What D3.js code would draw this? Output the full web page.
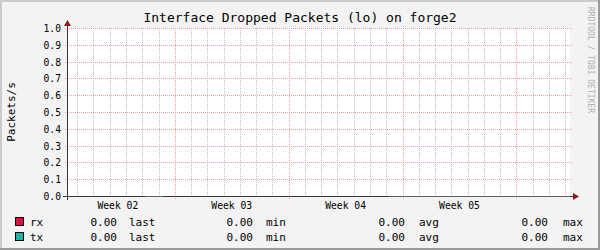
<!DOCTYPE html>
<html>
<head>
<meta charset="utf-8">
<script src="https://cdn.jsdelivr.net/npm/d3@7"></script>
<style>
  body { margin: 0; background: #fff; }
  text { font-family: "DejaVu Sans Mono", monospace; }
  line.grid { shape-rendering: crispEdges; }
</style>
</head>
<body>
<svg width="600" height="250"></svg>
<script>
// data
const title = "Interface Dropped Packets (lo) on forge2";
const yLabel = "Packets/s";
const watermark = "RRDTOOL / TOBI OETIKER";
const timeRange = ["2015-01-05T09:00Z", "2015-02-05T07:00Z"];
const weekStarts = ["2015-01-05T00:00Z", "2015-01-12T00:00Z", "2015-01-19T00:00Z", "2015-01-26T00:00Z", "2015-02-02T00:00Z"];
const weekLabels = ["Week 02", "Week 03", "Week 04", "Week 05"];
const yTicks = [0, 0.1, 0.2, 0.3, 0.4, 0.5, 0.6, 0.7, 0.8, 0.9, 1.0];
const sampleTimes = ["2015-01-10T04:00Z", "2015-01-11T06:30Z", "2015-01-18T00:00Z",
                     "2015-01-25T04:00Z", "2015-01-30T00:00Z", "2015-02-05T07:00Z"];
const rxValues = [0, 0, null, 0, 0, 0];
const txValues = [0, 0, null, 0, 0, 0];
const seriesNames = ["rx", "tx"];
const seriesColors = ["#dc143c", "#20b2aa"];
const statLabels = ["last", "min", "avg", "max"];
const rxStats = [0, 0, 0, 0];
const txStats = [0, 0, 0, 0];

let width = 600;
let height = 250;
let plotLeft = 67, plotRight = 570, plotTop = 28, plotBottom = 196;

let parse = d3.isoParse;
let svg = d3.select("svg");

// background with rrdtool style shading
svg.append("rect").attr("width", width).attr("height", height).attr("fill", "#999999");
svg.append("rect").attr("width", width - 2).attr("height", height - 2).attr("fill", "#cbcbcb");
svg.append("rect").attr("x", 2).attr("y", 2).attr("width", width - 4).attr("height", height - 4).attr("fill", "#f3f3f3");

let xScale = d3.scaleUtc()
               .domain(timeRange.map(parse))
               .range([plotLeft, plotRight]);

let yScale = d3.scaleLinear()
               .domain([0, 1])
               .range([plotBottom, plotTop]);

svg.append("rect")
   .attr("x", plotLeft).attr("y", plotTop)
   .attr("width", plotRight - plotLeft).attr("height", plotBottom - plotTop)
   .attr("fill", "#ffffff");

let weekDates = weekStarts.map(parse);
let weekMs = weekDates.map(d => d.getTime());

// minor grid: every day that is not a week start
let days = d3.utcDay.range(xScale.domain()[0], xScale.domain()[1])
             .filter(d => weekMs.indexOf(d.getTime()) < 0);
svg.append("g")
   .selectAll("line")
   .data(days)
   .enter()
   .append("line")
     .attr("class", "grid")
     .attr("x1", d => Math.round(xScale(d)) + 0.5)
     .attr("x2", d => Math.round(xScale(d)) + 0.5)
     .attr("y1", plotTop)
     .attr("y2", plotBottom + 2)
     .attr("stroke", "#bdbdbd")
     .attr("stroke-dasharray", "1,1");

// horizontal grid
svg.append("g")
   .selectAll("line")
   .data(yTicks.slice(1))
   .enter()
   .append("line")
     .attr("class", "grid")
     .attr("x1", plotLeft - 2)
     .attr("x2", plotRight + 2)
     .attr("y1", d => Math.round(yScale(d)) + 0.5)
     .attr("y2", d => Math.round(yScale(d)) + 0.5)
     .attr("stroke", "#f09c9c")
     .attr("stroke-dasharray", "1,1");

// major grid: one path per week start
let majorWeeks = weekDates.filter(d => d > xScale.domain()[0]);
svg.append("g")
   .selectAll("path")
   .data(majorWeeks)
   .enter()
   .append("path")
     .attr("d", d => {
       let x = Math.round(xScale(d)) + 0.5;
       return "M" + x + "," + plotTop + "V" + (plotBottom + 3);
     })
     .attr("fill", "none")
     .attr("stroke", "#f09c9c")
     .attr("stroke-width", 1)
     .attr("stroke-dasharray", "1,1")
     .style("shape-rendering", "crispEdges");

// y tick labels
svg.append("g")
   .selectAll("text")
   .data(yTicks)
   .enter()
   .append("text")
     .attr("x", 61)
     .attr("y", d => Math.round(yScale(d)) + 3.5)
     .attr("text-anchor", "end")
     .style("font-size", "9.7px")
     .attr("fill", "#000")
     .text(d3.format(".1f"));

// week labels at mid week
svg.append("g")
   .selectAll("text")
   .data(weekLabels)
   .enter()
   .append("text")
     .attr("x", (d, i) => xScale(d3.utcHour.offset(weekDates[i], 84)))
     .attr("y", 209)
     .attr("text-anchor", "middle")
     .style("font-size", "9.7px")
     .text(d => d);

// axes
svg.append("line")
   .attr("x1", plotLeft - 4).attr("x2", plotRight + 3)
   .attr("y1", plotBottom + 0.5).attr("y2", plotBottom + 0.5)
   .attr("stroke", "#3a3434");
svg.append("line")
   .attr("x1", plotLeft + 0.5).attr("x2", plotLeft + 0.5)
   .attr("y1", plotBottom + 4).attr("y2", plotTop - 3)
   .attr("stroke", "#3a3434");

// series lines
let samples = sampleTimes.map(parse);
let line = d3.line()
             .defined(d => d[1] != null)
             .x(d => xScale(d[0]))
             .y(d => Math.round(yScale(d[1])) + 0.5);

[rxValues, txValues].forEach((vals, i) => {
  svg.append("path")
     .datum(samples.map((t, j) => [t, vals[j]]))
     .attr("d", line)
     .attr("fill", "none")
     .attr("stroke", seriesColors[i])
     .attr("stroke-opacity", 0.45)
     .attr("stroke-width", 1);
});

// arrows
svg.append("path")
   .attr("d", `M${plotRight + 3},${plotBottom - 3} L${plotRight + 9},${plotBottom + 0.5} L${plotRight + 3},${plotBottom + 4} Z`)
   .attr("fill", "#8b1a1a");
svg.append("path")
   .attr("d", `M${plotLeft - 3},${plotTop - 2} L${plotLeft + 0.5},${plotTop - 8} L${plotLeft + 4},${plotTop - 2} Z`)
   .attr("fill", "#8b1a1a");

// title
svg.append("text")
   .attr("x", 300)
   .attr("y", 22)
   .attr("text-anchor", "middle")
   .style("font-size", "13px")
   .text(title);

// y label
svg.append("text")
   .attr("transform", "rotate(-90)")
   .attr("x", -112)
   .attr("y", 15)
   .attr("text-anchor", "middle")
   .style("font-size", "11px")
   .text(yLabel);

// watermark
svg.append("text")
   .attr("transform", "translate(588,60) rotate(90)")
   .attr("text-anchor", "middle")
   .style("font-size", "8px")
   .attr("fill", "#b0b0b0")
   .text(watermark);

// legend
let statX = [117, 253, 405, 548];
let labelX = [129, 266, 419, 563];
let fmt = d3.format(".2f");
let rows = svg.selectAll("g.legend")
   .data(seriesNames)
   .enter()
   .append("g")
     .attr("class", "legend")
     .attr("transform", (d, i) => "translate(0," + (222 + i * 15) + ")");

rows.append("rect")
    .attr("x", 15.5).attr("y", -4.5)
    .attr("width", 8).attr("height", 8)
    .attr("fill", (d, i) => seriesColors[i])
    .attr("stroke", "#000");

rows.append("text")
    .attr("x", 30).attr("y", 4)
    .style("font-size", "11px")
    .text(d => d);

rows.each(function(d, i) {
  let stats = i === 0 ? rxStats : txStats;
  let g = d3.select(this);
  stats.forEach((v, k) => {
    g.append("text")
     .attr("x", statX[k]).attr("y", 4)
     .attr("text-anchor", "end")
     .style("font-size", "11px")
     .text(fmt(v));
    g.append("text")
     .attr("x", labelX[k]).attr("y", 4)
     .style("font-size", "11px")
     .text(statLabels[k]);
  });
});
</script>
</body>
</html>
